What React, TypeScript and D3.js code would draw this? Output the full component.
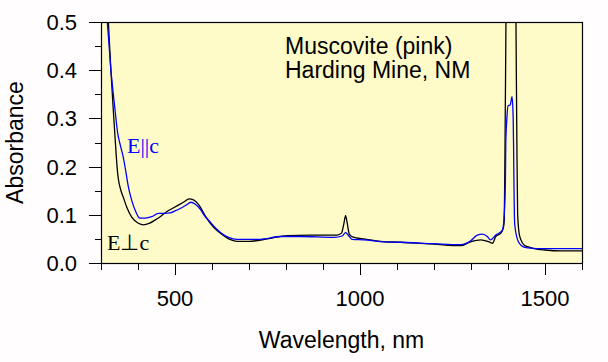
import React from 'react';
import * as d3 from 'd3';

// E perpendicular c (black)
const wavePerp = [300, 310, 316, 320, 326, 333, 338, 342, 345, 349, 354, 360, 370, 383, 400, 415, 430, 446, 460, 478, 495, 509, 525, 538, 550, 565, 580, 595, 610, 622, 645, 667, 700, 750, 803, 866, 938, 950, 956, 961, 966, 971, 978, 990, 1010, 1056, 1110, 1200, 1272, 1299, 1315, 1326, 1340, 1349, 1358, 1367, 1381, 1388, 1390, 1392, 1394, 1396, 1405, 1412, 1420, 1422, 1424, 1426, 1430, 1435, 1444, 1453, 1471, 1500, 1543, 1600];
const absPerp = [0.85, 0.65, 0.56, 0.5, 0.41, 0.32, 0.26, 0.214, 0.186, 0.165, 0.15, 0.137, 0.115, 0.095, 0.083, 0.079, 0.082, 0.089, 0.096, 0.107, 0.114, 0.12, 0.127, 0.133, 0.131, 0.12, 0.1, 0.083, 0.07, 0.062, 0.05, 0.045, 0.045, 0.05, 0.057, 0.058, 0.058, 0.062, 0.08, 0.098, 0.08, 0.06, 0.055, 0.052, 0.05, 0.045, 0.043, 0.039, 0.036, 0.044, 0.047, 0.048, 0.046, 0.044, 0.041, 0.055, 0.062, 0.075, 0.09, 0.25, 0.45, 0.65, 0.75, 0.75, 0.65, 0.45, 0.25, 0.103, 0.062, 0.048, 0.037, 0.034, 0.03, 0.027, 0.025, 0.025];

// E parallel c (blue)
const wavePar = [300, 310, 317, 322, 326, 332, 338, 345, 352, 360, 367, 374, 383, 392, 400, 405, 420, 437, 455, 470, 487, 500, 514, 530, 543, 555, 568, 580, 595, 610, 622, 645, 667, 730, 785, 839, 929, 952, 961, 970, 979, 1010, 1065, 1110, 1200, 1272, 1299, 1317, 1331, 1344, 1353, 1367, 1385, 1390, 1393, 1394, 1397, 1400, 1406, 1411, 1414, 1415, 1416, 1418, 1426, 1435, 1449, 1481, 1600];
const absPar = [0.8, 0.6, 0.5, 0.45, 0.407, 0.36, 0.317, 0.27, 0.245, 0.22, 0.19, 0.158, 0.13, 0.11, 0.097, 0.093, 0.093, 0.096, 0.103, 0.103, 0.104, 0.108, 0.113, 0.12, 0.126, 0.122, 0.112, 0.098, 0.085, 0.072, 0.064, 0.053, 0.049, 0.049, 0.055, 0.055, 0.053, 0.056, 0.063, 0.056, 0.049, 0.048, 0.044, 0.043, 0.04, 0.038, 0.046, 0.058, 0.06, 0.055, 0.048, 0.058, 0.068, 0.103, 0.172, 0.248, 0.3, 0.326, 0.328, 0.345, 0.3, 0.248, 0.172, 0.082, 0.048, 0.037, 0.032, 0.03, 0.03];

const xMajor = [500, 1000, 1500];
const yMajor = [0.0, 0.1, 0.2, 0.3, 0.4, 0.5];
const noteLines = ['Muscovite (pink)', 'Harding Mine, NM'];

const W = 608, H = 362;
const left = 101, right = 582, top = 22, bottom = 263;
const sans = "'Liberation Sans', Arial, sans-serif";
const serif = "'Liberation Serif', 'Times New Roman', serif";

export default function App() {
  const x = d3.scaleLinear().domain([300, 1600]).range([left, right]);
  const y = d3.scaleLinear().domain([0, 0.5]).range([bottom, top]);

  const line = d3.line<[number, number]>()
    .x(d => x(d[0]))
    .y(d => y(d[1]))
    .curve(d3.curveMonotoneX);

  const perp = line(wavePerp.map((w, i) => [w, absPerp[i]]) as [number, number][]) || '';
  const par = line(wavePar.map((w, i) => [w, absPar[i]]) as [number, number][]) || '';

  const xMinor = d3.range(300, 1601, 100);
  const yMinor = d3.range(0, 0.501, 0.05);

  return (
    <svg width={W} height={H} style={{ position: 'absolute', left: 0, top: 0, display: 'block' }}>
      <defs>
        <clipPath id="plot">
          <rect x={left} y={top} width={right - left} height={bottom - top} />
        </clipPath>
      </defs>
      <rect x={0} y={0} width={W} height={H} fill="#fffdfd" />
      <rect x={left} y={top} width={right - left} height={bottom - top} fill="#fffbc8" />

      <g clipPath="url(#plot)" fill="none" strokeWidth={1.3}>
        <path d={perp} stroke="#000" />
        <path d={par} stroke="#0000ff" />
      </g>

      {/* frame */}
      <rect x={left + 0.5} y={top + 0.5} width={right - left} height={bottom - top} fill="none" stroke="#000" strokeWidth={1.2} />

      {/* x ticks */}
      {xMinor.map(v => (
        <line key={'xm' + v} x1={Math.round(x(v)) + 0.5} x2={Math.round(x(v)) + 0.5} y1={bottom} y2={xMajor.includes(v) ? bottom + 12 : bottom + 7} stroke="#000" />
      ))}
      {xMajor.map(v => (
        <text key={'xl' + v} x={x(v)} y={306} textAnchor="middle" fontFamily={sans} fontSize={22}>{v}</text>
      ))}

      {/* y ticks */}
      {yMinor.map((v, i) => (
        <line key={'ym' + i} x1={i % 2 === 0 ? left - 12 : left - 6} x2={left} y1={Math.round(y(v)) + 0.5} y2={Math.round(y(v)) + 0.5} stroke="#000" />
      ))}
      {yMajor.map(v => (
        <text key={'yl' + v} x={77} y={y(v) + 8} textAnchor="end" fontFamily={sans} fontSize={22}>{v.toFixed(1)}</text>
      ))}

      <text x={(left + right) / 2} y={348} textAnchor="middle" fontFamily={sans} fontSize={23}>Wavelength, nm</text>
      <text transform={`translate(23,${(top + bottom) / 2}) rotate(-90)`} textAnchor="middle" fontFamily={sans} fontSize={23}>Absorbance</text>

      <text x={285} y={54} fontFamily={sans} fontSize={23}>
        {noteLines.map((t, i) => (
          <tspan key={t} x={285} dy={i === 0 ? 0 : 23.5}>{t}</tspan>
        ))}
      </text>

      <text x={127} y={153} fontFamily={serif} fontSize={22} fill="#0000ff">E||c</text>
      <text x={107} y={250} fontFamily={serif} fontSize={22} fill="#000">E⊥c</text>
    </svg>
  );
}
